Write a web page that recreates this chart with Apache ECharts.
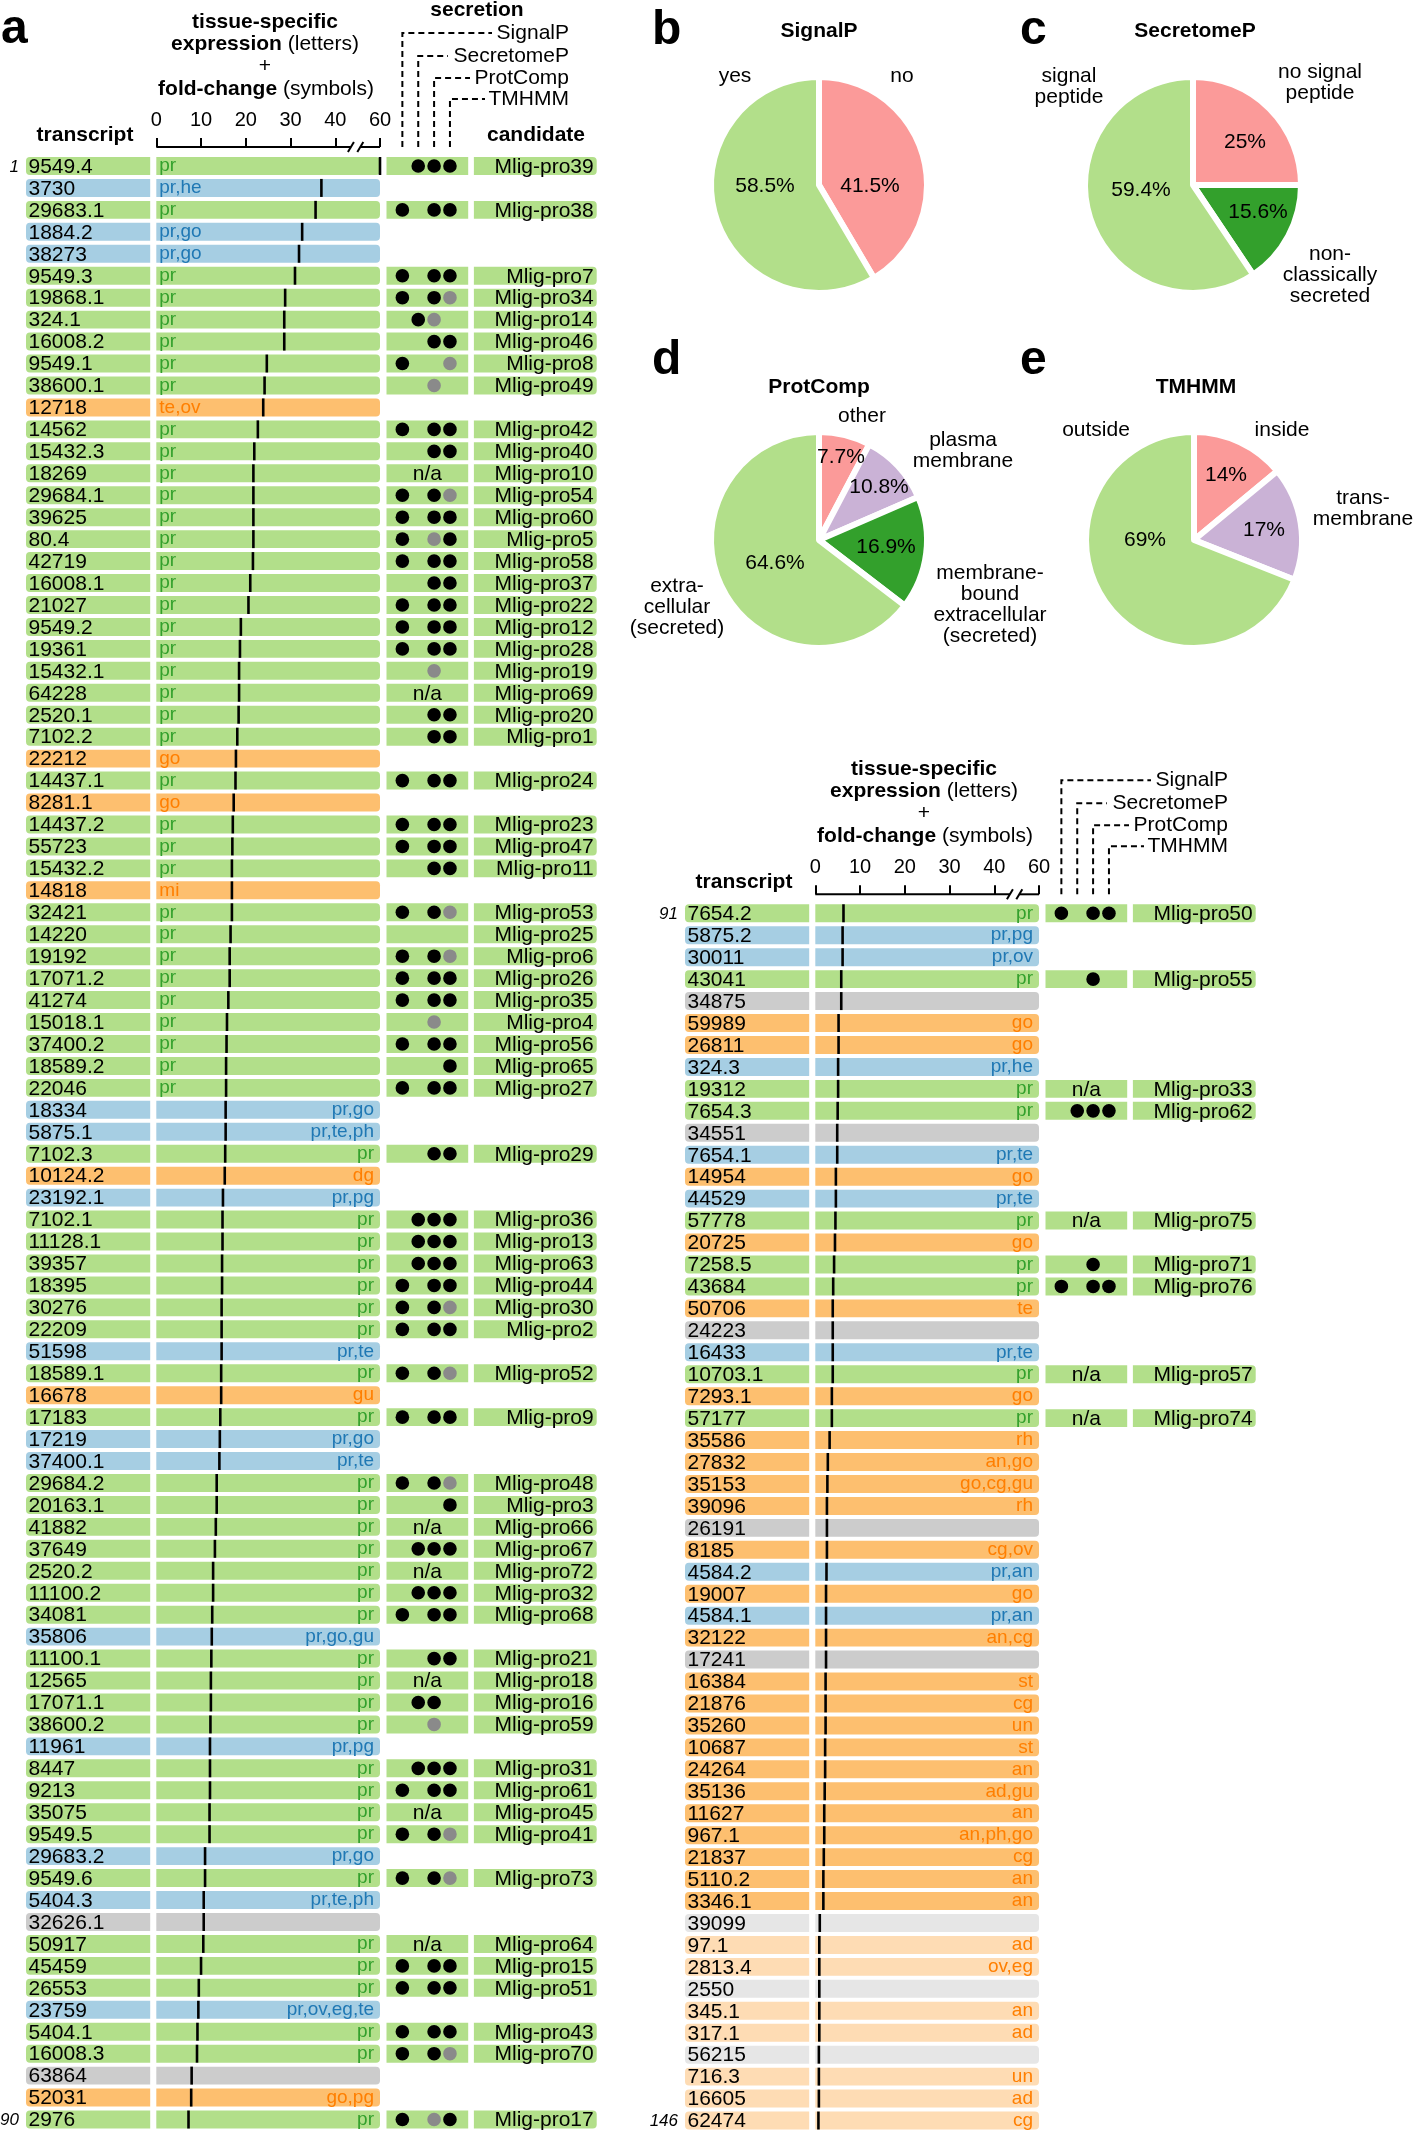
<!DOCTYPE html>
<html>
<head>
<meta charset="utf-8">
<script src="https://cdn.jsdelivr.net/npm/echarts@6/dist/echarts.min.js"></script>
<style>
html,body{margin:0;padding:0;background:#fff;}
#chart{width:1415px;height:2132px;}
</style>
</head>
<body>
<div id="chart"></div>
<script>
// ================= DATA =================
const transcripts = [
 '9549.4','3730','29683.1','1884.2','38273','9549.3','19868.1','324.1','16008.2','9549.1',
 '38600.1','12718','14562','15432.3','18269','29684.1','39625','80.4','42719','16008.1',
 '21027','9549.2','19361','15432.1','64228','2520.1','7102.2','22212','14437.1','8281.1',
 '14437.2','55723','15432.2','14818','32421','14220','19192','17071.2','41274','15018.1',
 '37400.2','18589.2','22046','18334','5875.1','7102.3','10124.2','23192.1','7102.1','11128.1',
 '39357','18395','30276','22209','51598','18589.1','16678','17183','17219','37400.1',
 '29684.2','20163.1','41882','37649','2520.2','11100.2','34081','35806','11100.1','12565',
 '17071.1','38600.2','11961','8447','9213','35075','9549.5','29683.2','9549.6','5404.3',
 '32626.1','50917','45459','26553','23759','5404.1','16008.3','63864','52031','2976',
 '7654.2','5875.2','30011','43041','34875','59989','26811','324.3','19312','7654.3',
 '34551','7654.1','14954','44529','57778','20725','7258.5','43684','50706','24223',
 '16433','10703.1','7293.1','57177','35586','27832','35153','39096','26191','8185',
 '4584.2','19007','4584.1','32122','17241','16384','21876','35260','10687','24264',
 '35136','11627','967.1','21837','5110.2','3346.1','39099','97.1','2813.4','2550',
 '345.1','317.1','56215','716.3','16605','62474'
];
const tissues = [
 'pr','pr,he','pr','pr,go','pr,go','pr','pr','pr','pr','pr',
 'pr','te,ov','pr','pr','pr','pr','pr','pr','pr','pr',
 'pr','pr','pr','pr','pr','pr','pr','go','pr','go',
 'pr','pr','pr','mi','pr','pr','pr','pr','pr','pr',
 'pr','pr','pr','pr,go','pr,te,ph','pr','dg','pr,pg','pr','pr',
 'pr','pr','pr','pr','pr,te','pr','gu','pr','pr,go','pr,te',
 'pr','pr','pr','pr','pr','pr','pr','pr,go,gu','pr','pr',
 'pr','pr','pr,pg','pr','pr','pr','pr','pr,go','pr','pr,te,ph',
 '','pr','pr','pr','pr,ov,eg,te','pr','pr','','go,pg','pr',
 'pr','pr,pg','pr,ov','pr','','go','go','pr,he','pr','pr',
 '','pr,te','go','pr,te','pr','go','pr','pr','te','',
 'pr,te','pr','go','pr','rh','an,go','go,cg,gu','rh','','cg,ov',
 'pr,an','go','pr,an','an,cg','','st','cg','un','st','an',
 'ad,gu','an','an,ph,go','cg','an','an','','ad','ov,eg','',
 'an','ad','','un','ad','cg'
];
const foldChange = [
 60,36.9,35.6,32.6,31.9,31.0,28.8,28.6,28.6,24.7,
 24.2,23.9,22.7,21.9,21.7,21.7,21.7,21.7,21.6,21.0,
 20.6,18.9,18.7,18.5,18.5,18.4,18.1,17.8,17.7,17.3,
 17.1,17.0,16.9,16.9,16.9,16.6,16.4,16.4,16.1,15.8,
 15.7,15.6,15.6,15.5,15.5,15.4,15.3,14.9,14.8,14.8,
 14.7,14.7,14.6,14.6,14.6,14.5,14.5,14.3,14.2,14.1,
 13.5,13.5,13.3,13.1,12.7,12.7,12.5,12.4,12.3,12.2,
 12.2,12.1,12.0,12.0,12.0,11.9,11.9,10.9,10.9,10.6,
 10.6,10.5,10.0,9.5,9.4,9.2,9.1,7.9,7.8,7.2,
 6.3,6.1,6.1,5.8,5.8,5.2,5.2,5.1,5.1,5.0,
 4.9,4.9,4.6,4.6,4.5,4.4,4.2,4.0,3.9,3.9,
 3.9,3.9,3.7,3.7,3.2,2.8,2.7,2.6,2.6,2.6,
 2.5,2.4,2.4,2.4,2.4,2.3,2.3,2.3,2.2,2.2,
 2.1,2.0,2.0,1.9,1.8,1.8,1.0,0.9,0.9,0.9,
 0.9,0.9,0.8,0.8,0.8,0.7
];
// rows (1-based) that carry a candidate
const candidateRows = [
 1,3,6,7,8,9,10,11,13,14,15,16,17,18,19,20,21,22,23,24,25,26,27,29,31,32,33,35,36,37,
 38,39,40,41,42,43,46,49,50,51,52,53,54,56,58,61,62,63,64,65,66,67,69,70,71,72,74,75,76,77,
 79,82,83,84,86,87,90,91,94,99,100,105,107,108,112,114
];
const candidateNames = [
 'Mlig-pro39','Mlig-pro38','Mlig-pro7','Mlig-pro34','Mlig-pro14','Mlig-pro46','Mlig-pro8','Mlig-pro49','Mlig-pro42','Mlig-pro40',
 'Mlig-pro10','Mlig-pro54','Mlig-pro60','Mlig-pro5','Mlig-pro58','Mlig-pro37','Mlig-pro22','Mlig-pro12','Mlig-pro28','Mlig-pro19',
 'Mlig-pro69','Mlig-pro20','Mlig-pro1','Mlig-pro24','Mlig-pro23','Mlig-pro47','Mlig-pro11','Mlig-pro53','Mlig-pro25','Mlig-pro6',
 'Mlig-pro26','Mlig-pro35','Mlig-pro4','Mlig-pro56','Mlig-pro65','Mlig-pro27','Mlig-pro29','Mlig-pro36','Mlig-pro13','Mlig-pro63',
 'Mlig-pro44','Mlig-pro30','Mlig-pro2','Mlig-pro52','Mlig-pro9','Mlig-pro48','Mlig-pro3','Mlig-pro66','Mlig-pro67','Mlig-pro72',
 'Mlig-pro32','Mlig-pro68','Mlig-pro21','Mlig-pro18','Mlig-pro16','Mlig-pro59','Mlig-pro31','Mlig-pro61','Mlig-pro45','Mlig-pro41',
 'Mlig-pro73','Mlig-pro64','Mlig-pro15','Mlig-pro51','Mlig-pro43','Mlig-pro70','Mlig-pro17','Mlig-pro50','Mlig-pro55','Mlig-pro33',
 'Mlig-pro62','Mlig-pro75','Mlig-pro71','Mlig-pro76','Mlig-pro57','Mlig-pro74'
];
// secretion predictions per candidate: SignalP, SecretomeP, ProtComp, TMHMM  (B = black dot, G = grey dot, . = none)
const candidateSecretion = [
 '.BBB','B.BB','B.BB','B.BG','.BG.','..BB','B..G','..G.','B.BB','..BB',
 'n/a','B.BG','B.BB','B.GB','B.BB','..BB','B.BB','B.BB','B.BB','..G.',
 'n/a','..BB','..BB','B.BB','B.BB','B.BB','..BB','B.BG','....','B.BG',
 'B.BB','B.BB','..G.','B.BB','...B','B.BB','..BB','.BBB','.BBB','.BBB',
 'B.BB','B.BG','B.BB','B.BG','B.BB','B.BG','...B','n/a','.BBB','n/a',
 '.BBB','B.BB','..BB','n/a','.BB.','..G.','.BBB','B.BB','n/a','B.BG',
 'B.BG','n/a','B.BB','B.BB','B.BB','B.BG','B.GB','B.BB','..B.','n/a',
 '.BBB','n/a','..B.','B.BB','n/a','n/a'
];
const foldTickLabels = [0, 10, 20, 30, 40, 60];
const secretionTools = ['SignalP', 'SecretomeP', 'ProtComp', 'TMHMM'];

const signalPLabels = ['no', 'yes'];
const signalPValues = [41.5, 58.5];
const secretomePLabels = ['no signal\npeptide', 'non-\nclassically\nsecreted', 'signal\npeptide'];
const secretomePValues = [25, 15.6, 59.4];
const protCompLabels = ['other', 'plasma\nmembrane', 'membrane-\nbound\nextracellular\n(secreted)', 'extra-\ncellular\n(secreted)'];
const protCompValues = [7.7, 10.8, 16.9, 64.6];
const tmhmmLabels = ['inside', 'trans-\nmembrane', 'outside'];
const tmhmmValues = [14, 17, 69];

// ================= STYLE / LAYOUT =================
const FONT = "'Liberation Sans', Arial, Helvetica, sans-serif";
const ROW_PITCH = 21.95, CELL_FRAC = 0.82, HEAD_TOP = 155;
const COLS = [[26, 150.2], [156.3, 380], [386.5, 468.2], [473.9, 596.7]];
const PANELS = [{start: 0, end: 90, dx: 0, dy: 0}, {start: 90, end: 146, dx: 659, dy: 747.3}];
const FADED_FROM_ROW = 137;
const LETTERS_LEFT_UNTIL_ROW = 43;
const CELL = {pr: '#b2df8a', mixed: '#a6cee3', other: '#fdbf6f', none: '#cccccc', otherFaded: '#fedcb4', noneFaded: '#e6e6e6'};
const LETTER = {pr: '#33a02c', mixed: '#1f78b4', other: '#ff7f00'};
const SALMON = '#fb9a99', LGREEN = '#b2df8a', DGREEN = '#33a02c', PURPLE = '#cab2d6';

function groupOf(i) {
  const t = tissues[i];
  if (!t) return 'none';
  if (t === 'pr') return 'pr';
  if (t.indexOf('pr,') === 0) return 'mixed';
  return 'other';
}
function cellColor(i) {
  const g = groupOf(i);
  if (i + 1 >= FADED_FROM_ROW) return g === 'none' ? CELL.noneFaded : CELL.otherFaded;
  return CELL[g];
}
const brk = v => (v <= 40 ? v : 40 + (v - 40) / 2); // broken axis 40..60 compressed

function ts(o) {
  const s = Object.assign({fontFamily: FONT, fontSize: 21, fill: '#000', align: 'left', verticalAlign: 'middle'}, o);
  s.textAlign = s.align; s.textVerticalAlign = s.verticalAlign;
  return s;
}

function rowGeom(api, xv) {
  const pt = api.coord([xv, api.value(1)]);
  const h = api.size([0, 1])[1] * CELL_FRAC;
  return {pt, h, y0: pt[1] - h / 2};
}

function makeTranscriptRender(p) {
  return function (params, api) {
    const gi = api.value(2);
    const cs = params.coordSys;
    const g = rowGeom(api, 0);
    const ch = [
      {type: 'rect', shape: {x: cs.x, y: g.y0, width: cs.width, height: g.h, r: [4, 0, 0, 4]}, style: {fill: cellColor(gi)}},
      {type: 'text', style: ts({text: transcripts[gi], x: cs.x + 2.5, y: g.pt[1] + 1})}
    ];
    if (gi === p.start || gi === p.end - 1) {
      ch.push({type: 'text', style: ts({text: String(gi + 1), x: cs.x - 7, y: g.pt[1] + 1, align: 'right', fontSize: 17, fontStyle: 'italic'})});
    }
    return {type: 'group', children: ch};
  };
}
function renderBar(params, api) {
  const gi = api.value(2);
  const cs = params.coordSys;
  const g = rowGeom(api, api.value(0));
  const ch = [
    {type: 'rect', shape: {x: cs.x, y: g.y0, width: cs.width, height: g.h, r: [0, 4, 4, 0]}, style: {fill: cellColor(gi)}}
  ];
  const t = tissues[gi];
  if (t) {
    const left = gi + 1 <= LETTERS_LEFT_UNTIL_ROW;
    ch.push({type: 'text', style: ts({text: t, x: left ? cs.x + 3 : cs.x + cs.width - 6, y: g.pt[1], align: left ? 'left' : 'right', fontSize: 19, fill: LETTER[groupOf(gi)]})});
  }
  ch.push({type: 'rect', shape: {x: g.pt[0] - 1.3, y: g.y0, width: 2.6, height: g.h}, style: {fill: '#000'}});
  return {type: 'group', children: ch};
}
function renderSecretion(params, api) {
  const k = api.value(2);
  const cs = params.coordSys;
  const g = rowGeom(api, 0);
  const code = candidateSecretion[k];
  const ch = [{type: 'rect', shape: {x: cs.x, y: g.y0, width: cs.width, height: g.h}, style: {fill: CELL.pr}}];
  if (code === 'n/a') {
    ch.push({type: 'text', style: ts({text: 'n/a', x: cs.x + cs.width / 2, y: g.pt[1] + 1, align: 'center'})});
  } else {
    for (let j = 0; j < 4; j++) {
      const c = code[j];
      if (c === 'B' || c === 'G') {
        const pt = api.coord([j, api.value(1)]);
        ch.push({type: 'circle', shape: {cx: pt[0], cy: pt[1], r: 6.8}, style: {fill: c === 'B' ? '#000' : '#8a8a8a'}});
      }
    }
  }
  return {type: 'group', children: ch};
}
function renderCandidate(params, api) {
  const k = api.value(2);
  const cs = params.coordSys;
  const g = rowGeom(api, 0);
  return {type: 'group', children: [
    {type: 'rect', shape: {x: cs.x, y: g.y0, width: cs.width, height: g.h, r: [0, 4, 4, 0]}, style: {fill: CELL.pr}},
    {type: 'text', style: ts({text: candidateNames[k], x: cs.x + cs.width - 3, y: g.pt[1] + 1, align: 'right'})}
  ]};
}

// ================= OPTION =================
const option = {animation: false, textStyle: {fontFamily: FONT}, grid: [], xAxis: [], yAxis: [], series: []};

PANELS.forEach((p, pi) => {
  const n = p.end - p.start;
  const top = HEAD_TOP + p.dy, height = n * ROW_PITCH;
  COLS.forEach((c, ci) => {
    option.grid.push({left: c[0] + p.dx, top: top, width: c[1] - c[0], height: height, containLabel: false, outerBoundsMode: 'none', show: false});
    option.yAxis.push({type: 'category', gridIndex: pi * 4 + ci, data: transcripts.slice(p.start, p.end), inverse: true, show: false});
  });
  const b = pi * 4;
  option.xAxis.push({type: 'value', gridIndex: b, min: 0, max: 1, show: false});
  option.xAxis.push({
    type: 'value', gridIndex: b + 1, min: 0, max: 50, interval: 10, position: 'top', offset: 8,
    axisLine: {show: false},
    axisTick: {show: true, length: 9, lineStyle: {color: '#000', width: 2}},
    axisLabel: {show: true, margin: 17, color: '#000', fontSize: 20, fontFamily: FONT, showMinLabel: true, showMaxLabel: true,
      formatter: v => String(foldTickLabels[Math.round(v / 10)])},
    splitLine: {show: false}
  });
  option.xAxis.push({type: 'value', gridIndex: b + 2, min: -1, max: 4.15, show: false});
  option.xAxis.push({type: 'value', gridIndex: b + 3, min: 0, max: 1, show: false});

  const rowData = [], barData = [];
  for (let gi = p.start; gi < p.end; gi++) {
    rowData.push([0.5, gi - p.start, gi]);
    barData.push([brk(foldChange[gi]), gi - p.start, gi]);
  }
  const candData = [];
  candidateRows.forEach((r, k) => { if (r - 1 >= p.start && r - 1 < p.end) candData.push([0, r - 1 - p.start, k]); });

  const common = {type: 'custom', silent: true, clip: false, encode: {x: 0, y: 1}};
  option.series.push(Object.assign({}, common, {xAxisIndex: b, yAxisIndex: b, data: rowData, renderItem: makeTranscriptRender(p)}));
  option.series.push(Object.assign({}, common, {xAxisIndex: b + 1, yAxisIndex: b + 1, data: barData, renderItem: renderBar}));
  option.series.push(Object.assign({}, common, {xAxisIndex: b + 2, yAxisIndex: b + 2, data: candData, renderItem: renderSecretion}));
  option.series.push(Object.assign({}, common, {xAxisIndex: b + 3, yAxisIndex: b + 3, data: candData, renderItem: renderCandidate}));
});

const PIES = [
  {center: [819, 185], labels: signalPLabels, values: signalPValues, colors: [SALMON, LGREEN],
   title: 'SignalP', titlePos: [819, 31], letter: 'b', letterPos: [652, 31],
   pct: [[51, 1], [-54, 1]], namePos: [[902, 76], [735, 76]]},
  {center: [1193, 185], labels: secretomePLabels, values: secretomePValues, colors: [SALMON, DGREEN, LGREEN],
   title: 'SecretomeP', titlePos: [1195, 31], letter: 'c', letterPos: [1020, 31],
   pct: [[52, -43], [65, 27], [-52, 5]], namePos: [[1320, 83], [1330, 275], [1069, 87]]},
  {center: [819, 540], labels: protCompLabels, values: protCompValues, colors: [SALMON, PURPLE, DGREEN, LGREEN],
   title: 'ProtComp', titlePos: [819, 387], letter: 'd', letterPos: [652, 361],
   pct: [[22, -83], [60, -53], [67, 7], [-44, 23]], namePos: [[862, 416], [963, 451], [990, 605], [677, 607]]},
  {center: [1194, 540], labels: tmhmmLabels, values: tmhmmValues, colors: [SALMON, PURPLE, LGREEN],
   title: 'TMHMM', titlePos: [1196, 387], letter: 'e', letterPos: [1020, 361],
   pct: [[32, -65], [70, -10], [-49, 0]], namePos: [[1282, 430], [1363, 509], [1096, 430]]}
];
PIES.forEach(pc => {
  option.series.push({
    type: 'pie', center: pc.center, radius: 108, startAngle: 90, clockwise: true, silent: true, z: 1,
    label: {show: false}, labelLine: {show: false},
    itemStyle: {borderColor: '#fff', borderWidth: 6},
    data: pc.values.map((v, i) => ({name: pc.labels[i].replace(/\n/g, ' '), value: v, itemStyle: {color: pc.colors[i]}}))
  });
});

const chart = echarts.init(document.getElementById('chart'), null, {width: 1415, height: 2132, renderer: 'canvas'});
chart.setOption(option);

// ================= ANNOTATIONS =================
const G = [];
function T(x, y, text, o) { G.push({type: 'text', x: 0, y: 0, z: 100, zlevel: 0, silent: true, style: ts(Object.assign({text: text, x: x, y: y, align: 'center'}, o || {}))}); }
function L(x1, y1, x2, y2, o) { G.push({type: 'line', z: 100, silent: true, shape: {x1, y1, x2, y2}, style: Object.assign({stroke: '#000', lineWidth: 2}, o || {})}); }

PANELS.forEach((p, pi) => {
  const bx = v => chart.convertToPixel({xAxisIndex: pi * 4 + 1}, v);
  const sx = j => chart.convertToPixel({xAxisIndex: pi * 4 + 2}, j);
  const ay = 147 + p.dy, dx = p.dx, dy = p.dy;
  // broken axis line
  L(bx(0), ay, bx(43.5), ay);
  L(bx(45.6), ay, bx(50), ay);
  [43.5, 45.6].forEach(v => L(bx(v) - 3, ay + 5, bx(v) + 3, ay - 5));
  // header text
  T(265 + dx, 22 + dy, 'tissue-specific', {fontWeight: 'bold'});
  T(265 + dx, 44 + dy, '{b|expression} (letters)', {rich: {b: {fontWeight: 'bold', fontSize: 21, fontFamily: FONT}}});
  T(265 + dx, 66 + dy, '+');
  T(266 + dx, 89 + dy, '{b|fold-change} (symbols)', {rich: {b: {fontWeight: 'bold', fontSize: 21, fontFamily: FONT}}});
  T(85 + dx, 135 + dy, 'transcript', {fontWeight: 'bold'});
  // secretion tool leader lines
  const ly = [33, 56, 78, 99], hEnd = [492, 448, 470, 485];
  secretionTools.forEach((name, j) => {
    const x = sx(j);
    G.push({type: 'polyline', z: 100, silent: true, shape: {points: [[x, ay], [x, ly[j] + dy], [hEnd[j] + dx, ly[j] + dy]]},
      style: {stroke: '#000', lineWidth: 2, lineDash: [6, 4], fill: null}});
    T(569 + dx, ly[j] + dy, name, {align: 'right'});
  });
  if (pi === 0) {
    T(477, 10, 'secretion', {fontWeight: 'bold'});
    T(536, 135, 'candidate', {fontWeight: 'bold'});
    T(1, 30, 'a', {align: 'left', fontSize: 48, fontWeight: 'bold'});
  }
});
PIES.forEach(pc => {
  T(pc.letterPos[0], pc.letterPos[1], pc.letter, {align: 'left', fontSize: 48, fontWeight: 'bold'});
  T(pc.titlePos[0], pc.titlePos[1], pc.title, {fontWeight: 'bold'});
  pc.values.forEach((v, i) => {
    T(pc.center[0] + pc.pct[i][0], pc.center[1] + pc.pct[i][1], v + '%');
    T(pc.namePos[i][0], pc.namePos[i][1], pc.labels[i], {lineHeight: 21});
  });
});
chart.setOption({graphic: {elements: G}});
</script>
</body>
</html>
